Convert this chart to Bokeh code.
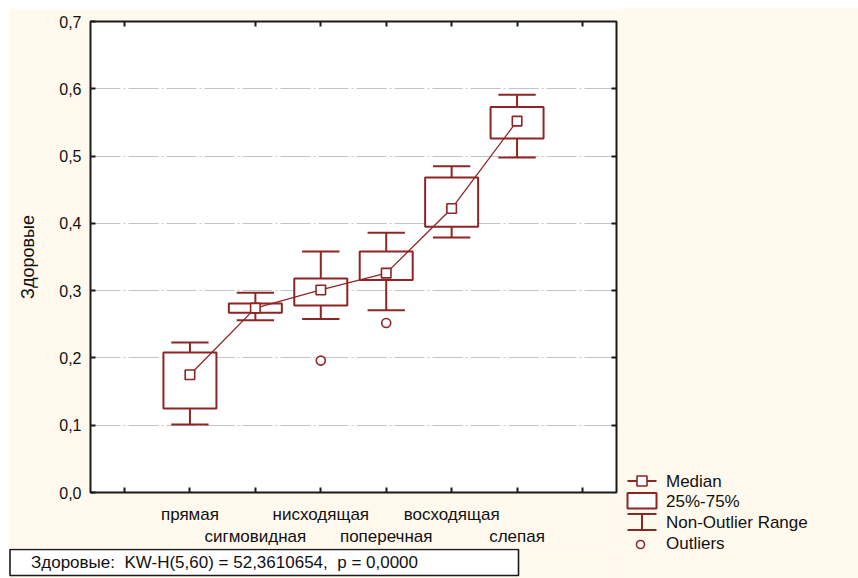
from bokeh.plotting import figure
from bokeh.models import Range1d, LinearAxis, FixedTicker, CustomJSTickFormatter, ColumnDataSource, Grid, Spacer
from bokeh.layouts import row, column
from bokeh.core.properties import value
from bokeh.embed import file_html
from bokeh.resources import INLINE

# ---- data ----
categories = ["прямая", "сигмовидная", "нисходящая", "поперечная", "восходящая", "слепая"]
median = [0.175, 0.274, 0.301, 0.326, 0.422, 0.552]
q1 = [0.125, 0.267, 0.278, 0.316, 0.395, 0.526]
q3 = [0.208, 0.281, 0.318, 0.358, 0.468, 0.573]
whisk_lo = [0.101, 0.256, 0.258, 0.271, 0.379, 0.498]
whisk_hi = [0.223, 0.297, 0.358, 0.386, 0.485, 0.591]
outlier_cat = ["нисходящая", "поперечная"]
outlier_val = [0.196, 0.252]
y_ticks = [0.0, 0.1, 0.2, 0.3, 0.4, 0.5, 0.6, 0.7]
y_label = "Здоровые"
stat_text = "Здоровые:\u00a0 KW-H(5,60) = 52,3610654,\u00a0 p = 0,0000"
legend_labels = ["Median", "25%-75%", "Non-Outlier Range", "Outliers"]

# ---- styling ----
RED = "#8E2525"
CREAM = "#FFF9EE"
FONT = "Liberation Sans"
BOX_W = 0.81
CAP_W = 0.57

xs = [i + 2 for i in range(len(categories))]
x_ticks = list(range(1, len(categories) + 3))
out_x = [categories.index(c) + 2 for c in outlier_cat]

p = figure(width=612, height=540, x_range=Range1d(0.48, len(categories) + 2.52),
           y_range=Range1d(0, 0.7), x_axis_type=None, y_axis_type=None,
           output_backend="svg", toolbar_location=None,
           min_border_left=82, min_border_right=4, min_border_top=13, min_border_bottom=55,
           background_fill_color="white", border_fill_color=CREAM,
           outline_line_color="#1a1a1a", outline_line_width=2)
p.frame_align = False

# left axis
yaxis = LinearAxis(ticker=FixedTicker(ticks=y_ticks),
                   formatter=CustomJSTickFormatter(code="return tick.toFixed(1).replace('.', ',');"),
                   axis_label=y_label, axis_line_color=None,
                   major_tick_in=5, major_tick_out=0, minor_tick_line_color=None,
                   major_tick_line_color="#1a1a1a", major_tick_line_width=2,
                   major_label_standoff=9, axis_label_standoff=18,
                   major_label_text_font=FONT, major_label_text_font_size="16px",
                   major_label_text_color="#111111",
                   axis_label_text_font=FONT, axis_label_text_font_size="18px",
                   axis_label_text_font_style="normal", axis_label_text_color="#111111")
p.add_layout(yaxis, "left")

# right axis (ticks only)
raxis = LinearAxis(ticker=FixedTicker(ticks=y_ticks[1:-1]),
                   formatter=CustomJSTickFormatter(code="return '';"),
                   axis_line_color=None, major_tick_in=5, major_tick_out=0,
                   minor_tick_line_color=None, major_tick_line_color="#1a1a1a",
                   major_tick_line_width=2, major_label_standoff=0,
                   major_label_text_font_size="0px")
p.add_layout(raxis, "right")

# grid
p.add_layout(Grid(dimension=1, ticker=FixedTicker(ticks=y_ticks[1:-1]),
                  grid_line_color="#c4c4c4", grid_line_width=1.2,
                  grid_line_dash="30 3 2 3"))

# top axis (ticks only)
top_ticks = [t for t in x_ticks if t != 2]
taxis = LinearAxis(ticker=FixedTicker(ticks=top_ticks),
                   formatter=CustomJSTickFormatter(code="return '';"),
                   axis_line_color=None, major_tick_in=5, major_tick_out=0,
                   minor_tick_line_color=None, major_tick_line_color="#1a1a1a",
                   major_tick_line_width=2, major_label_standoff=0,
                   major_label_text_font_size="0px")
p.add_layout(taxis, "above")

fmt_code = """
const i = Math.round(tick) - 2;
if (i >= 0 && i < names.length && i % 2 == parity) { return names[i]; }
return '';
"""
xaxis1 = LinearAxis(ticker=FixedTicker(ticks=x_ticks),
                    formatter=CustomJSTickFormatter(args=dict(names=categories, parity=0), code=fmt_code),
                    axis_line_color=None, major_tick_in=5, major_tick_out=0,
                    minor_tick_line_color=None, major_tick_line_color="#1a1a1a",
                    major_tick_line_width=2, major_label_standoff=12,
                    major_label_text_font=FONT, major_label_text_font_size="17px",
                    major_label_text_color="#111111")
p.add_layout(xaxis1, "below")
xaxis2 = LinearAxis(ticker=FixedTicker(ticks=[x for x in xs if (x - 2) % 2 == 1]),
                    formatter=CustomJSTickFormatter(args=dict(names=categories, parity=1), code=fmt_code),
                    axis_line_color=None, major_tick_in=0, major_tick_out=0,
                    minor_tick_line_color=None, major_tick_line_color=None,
                    major_label_standoff=0,
                    major_label_text_font=FONT, major_label_text_font_size="17px",
                    major_label_text_color="#111111")
p.add_layout(xaxis2, "below")

src = ColumnDataSource(dict(
    x=xs, q1=q1, q3=q3, med=median, lo=whisk_lo, hi=whisk_hi,
    cl=[x - CAP_W / 2 for x in xs], cr=[x + CAP_W / 2 for x in xs]))

p.segment(x0="x", y0="q3", x1="x", y1="hi", source=src, line_color=RED, line_width=2)
p.segment(x0="x", y0="lo", x1="x", y1="q1", source=src, line_color=RED, line_width=2)
p.segment(x0="cl", y0="hi", x1="cr", y1="hi", source=src, line_color=RED, line_width=2)
p.segment(x0="cl", y0="lo", x1="cr", y1="lo", source=src, line_color=RED, line_width=2)
p.vbar(x="x", width=BOX_W, top="q3", bottom="q1", source=src,
       fill_color="white", line_color=RED, line_width=2)
p.line(x="x", y="med", source=src, line_color=RED, line_width=1.3)
p.scatter(x="x", y="med", source=src, marker="square", size=9.5,
          fill_color="white", line_color=RED, line_width=1.6)
p.scatter(x=out_x, y=outlier_val, marker="circle", size=9,
          fill_color="white", line_color=RED, line_width=1.6)

# ---- statistics box below the chart ----
kw = figure(width=612, height=30, x_range=Range1d(0, 612), y_range=Range1d(30, 0),
            x_axis_type=None, y_axis_type=None, output_backend="svg", toolbar_location=None,
            min_border=0, background_fill_color=CREAM, border_fill_color=CREAM,
            outline_line_color=None)
kw.frame_align = False
kw.quad(left=[1.5], right=[510], top=[1], bottom=[27], fill_color="white",
        line_color="#1a1a1a", line_width=1.6)
kw.text(x=[22.5], y=[13.5], text=[stat_text], text_font=value(FONT), text_font_size="17px",
        text_baseline="middle", text_color="#111111")

# ---- legend panel ----
leg = figure(width=238, height=570, x_range=Range1d(0, 238), y_range=Range1d(570, 0),
             x_axis_type=None, y_axis_type=None, output_backend="svg", toolbar_location=None,
             min_border=0, background_fill_color=CREAM, border_fill_color=CREAM,
             outline_line_color=None)
leg.frame_align = False
ry = [472.5, 492.5, 513.5, 535]
# median icon
leg.segment(x0=[7], y0=[ry[0]], x1=[36], y1=[ry[0]], line_color=RED, line_width=1.8)
leg.scatter(x=[21.5], y=[ry[0]], marker="square", size=10, fill_color="white",
            line_color=RED, line_width=1.6)
# box icon
leg.quad(left=[7], right=[36], top=[ry[1] - 8], bottom=[ry[1] + 7.5], fill_color="white",
         line_color=RED, line_width=2)
# whisker icon
leg.segment(x0=[7, 7, 21.5], y0=[ry[2] - 8, ry[2] + 8, ry[2] - 8],
            x1=[36, 36, 21.5], y1=[ry[2] - 8, ry[2] + 8, ry[2] + 8],
            line_color=RED, line_width=2)
# outlier icon
leg.scatter(x=[20], y=[ry[3] + 1], marker="circle", size=8, fill_color="white",
            line_color=RED, line_width=1.6)
leg.text(x=[45.5] * 4, y=ry, text=legend_labels, text_font=value(FONT),
         text_font_size="17px", text_baseline="middle", text_color="#111111")

layout = column(Spacer(width=858, height=8),
                row(Spacer(width=8, height=570), column(p, kw), leg))
open("out.html", "w").write(file_html(layout, INLINE))
